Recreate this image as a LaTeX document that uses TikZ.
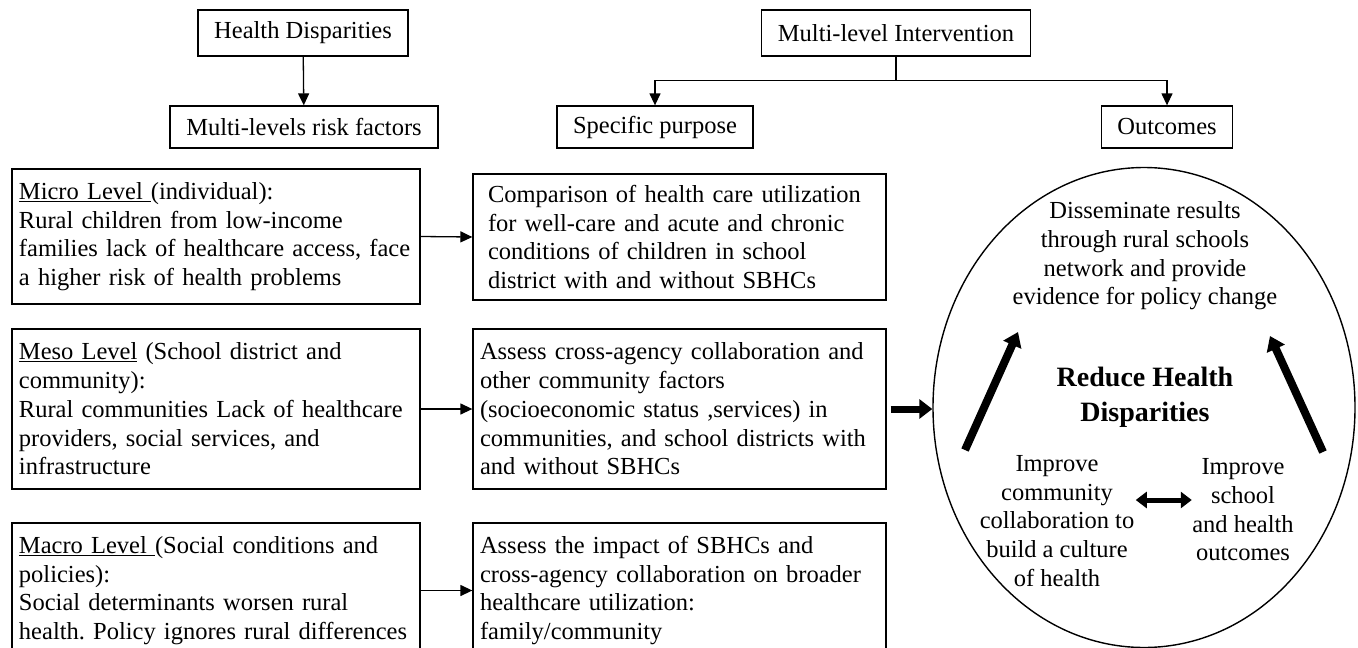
\documentclass[tikz,border=0pt]{standalone}
\usepackage{fontspec}
\setmainfont{Liberation Serif}
\usetikzlibrary{arrows.meta,shapes.geometric}
\frenchspacing

\begin{document}
\begin{tikzpicture}[x=1pt,y=-1pt,
	txt/.style={font=\fontsize{24.5}{28.7}\selectfont},
	title/.style={txt,draw,line width=1.3pt,inner sep=0pt,minimum height=42pt},
	level/.style={txt,draw,line width=1.3pt,align=left,inner xsep=7pt,inner ysep=0pt,text width=394pt},
	aim/.style={level,text width=399pt},
	arr/.style={line width=1.3pt,-{Triangle[length=12pt,width=11pt]}},
	fat/.style={line width=7pt,-{Triangle[length=13pt,width=19pt]}},
	dbl/.style={line width=5pt,{Triangle[length=11pt,width=16pt]}-{Triangle[length=11pt,width=16pt]}}]
	\useasboundingbox (0,0) rectangle (1358,648);
	\clip (0,0) rectangle (1358,648);
	% Headings
	\node[title,minimum width=210pt,minimum height=46pt] (hd) at (303,33) {Health Disparities};
	\node[title,minimum width=268pt] (mlr) at (304,127) {Multi-levels risk factors};
	\node[title,minimum width=269pt,minimum height=46pt] (mli) at (896,33) {Multi-level Intervention};
	\node[title,minimum width=196pt] (sp) at (655,127) {Specific purpose};
	\node[title,minimum width=131pt] (out) at (1167,127) {Outcomes};
	% Risk factors
	\node[level,minimum height=135pt] (micro) at (216,236.5) {\underline{Micro Level\ }(individual):\\
		Rural children from low-income\\ families lack of healthcare access, face\\ a higher risk of health problems};
	\node[level,minimum height=160pt] (meso) at (216,409) {\underline{Meso Level} (School district and\\ community):\\
		Rural communities Lack of healthcare\\ providers, social services, and\\ infrastructure};
	\node[level,minimum height=135pt] (macro) at (216,590.5) {\underline{Macro Level\ }(Social conditions and\\ policies):\\
		Social determinants worsen rural\\ health. Policy ignores rural differences};
	% Purposes
	\node[aim,inner xsep=15pt,text width=383pt,minimum height=126pt] (comp) at (679.5,237) {Comparison of health care utilization\\
		for well-care and acute and chronic\\ conditions of children in school\\ district with and without SBHCs};
	\node[aim,minimum height=160pt] (cross) at (679.5,409) {Assess cross-agency collaboration and\\ other community factors\\
		(socioeconomic status ,services) in\\ communities, and school districts with\\ and without SBHCs};
	\node[aim,minimum height=135pt] (impact) at (679.5,590.5) {Assess the impact of SBHCs and\\
		cross-agency collaboration on broader\\ healthcare utilization:\\ family/community};
	% Outcomes
	\node[draw,ellipse,line width=1.4pt,minimum width=422pt,minimum height=480pt,inner sep=0pt] (goal) at (1144,407.5) {};
	\node[txt,align=center] (spread) at (1145,256) {Disseminate results\\ through rural schools\\ network and provide\\ evidence for policy change};
	\node[font=\bfseries\fontsize{28}{35}\selectfont,align=center] (reduce) at (1145,397) {Reduce Health\\ Disparities};
	\node[txt,align=center] (commu) at (1057,521) {Improve\\ community\\ collaboration to\\ build a culture\\ of health};
	\node[txt,align=center] (school) at (1243,510) {Improve\\ school\\ and health\\ outcomes};
	\coordinate (la) at (965,450);
	\coordinate (lb) at (1018,332);
	\coordinate (ra) at (1323,452);
	\coordinate (rb) at (1270,336);
	% Arrows
	\draw[arr] (hd) -- (mlr);
	\draw[arr] (mli.south) -- ++(0,24) -| (sp.north);
	\draw[arr] (mli.south) -- ++(0,24) -| (out.north);
	\draw[arr] (micro.east) -- (comp.west);
	\draw[arr] (meso.east) -- (cross.west);
	\draw[arr] (macro.east) -- (impact.west);
	\draw[fat,shorten <=4pt] (cross.east) -- (cross.east -| goal.west);
	\draw[line width=8pt,-{Triangle[length=14pt,width=19pt]}] (la) -- (lb);
	\draw[line width=8pt,-{Triangle[length=14pt,width=19pt]}] (ra) -- (rb);
	\draw[dbl] ([xshift=-2pt,yshift=21pt]commu.east) -- ([xshift=3pt,yshift=10pt]school.west);
\end{tikzpicture}
\end{document}
